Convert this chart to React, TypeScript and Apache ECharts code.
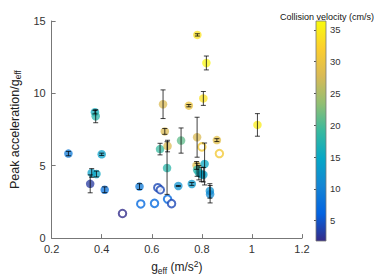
import React, { useEffect, useRef } from "react";
import * as echarts from "echarts";

// Filled markers (with error bars)
const gEff = [0.267, 0.373, 0.376, 0.36, 0.379, 0.354, 0.412, 0.4, 0.551, 0.645, 0.652, 0.633, 0.663, 0.661, 0.717, 0.706, 0.748, 0.782, 0.818, 0.806, 0.781, 0.779, 0.781, 0.788, 0.798, 0.806, 0.811, 0.76, 0.86, 1.022, 0.832, 0.833];
const peakAcc = [5.84, 8.7, 8.42, 4.5, 4.43, 3.75, 3.34, 5.79, 3.56, 9.25, 7.37, 6.15, 6.36, 4.84, 6.74, 3.6, 9.15, 14.04, 12.1, 9.65, 6.97, 5.02, 4.72, 4.52, 4.4, 4.38, 5.12, 3.74, 6.77, 7.82, 3.26, 3.03];
const accErr = [0.15, 0.12, 0.45, 0.3, 0.2, 0.62, 0.2, 0.08, 0.2, 0.99, 0.2, 0.4, 0.4, 1.82, 0.87, 0.03, 0.08, 0.08, 0.48, 0.48, 1.38, 0.27, 0.45, 0.5, 0.5, 0.5, 1.45, 0.1, 0.1, 0.78, 0.5, 0.6];
const velocity = [9, 16, 18, 14, 15, 3, 8, 14, 9, 28, 28, 19, 28, 18, 21, 12, 30, 34, 36, 34, 28, 29, 18, 17, 15, 14, 15, 13, 29, 35, 12, 11];

// Open markers (no error bars)
const ringG = [0.483, 0.556, 0.611, 0.624, 0.634, 0.663, 0.679, 0.8, 0.87];
const ringAcc = [1.7, 2.36, 2.4, 3.48, 3.34, 2.7, 2.38, 6.3, 5.84];
const ringVel = [2, 7, 7, 4, 4, 7, 4, 31, 31];

// Colour scale
const velRange = [1.8, 36.4];
const cbarTicks = [5, 10, 15, 20, 25, 30, 35];
const parula = ["#352a87", "#0363e1", "#1485d4", "#06a7c6", "#38b99e", "#92bf73", "#d9ba56", "#fcce2e", "#f9fb0e"];

const FONT = "Liberation Sans, Arial, Helvetica, sans-serif";

export default function App() {
  const ref = useRef<HTMLDivElement>(null);
  useEffect(() => {
    if (!ref.current) return;
    const chart = echarts.init(ref.current, null, { renderer: "svg" });
    const filled = gEff.map((g, i) => [g, peakAcc[i], velocity[i]]);
    const rings = ringG.map((g, i) => [g, ringAcc[i], ringVel[i]]);
    const errs = gEff.map((g, i) => [g, peakAcc[i], accErr[i]]);
    const option: any = {
      animation: false,
      backgroundColor: "#fff",
      textStyle: { fontFamily: FONT },
      title: {
        text: "Collision velocity (cm/s)",
        left: 322,
        top: 7,
        textAlign: "center",
        textStyle: { fontSize: 9, fontWeight: "normal", color: "#111", fontFamily: FONT },
      },
      grid: [
        { left: 44, right: 72, top: 21, bottom: 39 },
        { left: 316, width: 10, top: 21, bottom: 39 },
      ],
      xAxis: [
        {
          type: "value",
          gridIndex: 0,
          min: 0.2,
          max: 1.2,
          interval: 0.2,
          name: "{n|g}{sub|eff}{n| (m/s}{sup|2}{n|)}",
          nameLocation: "middle",
          nameGap: 20,
          nameTextStyle: {
            color: "#222",
            fontSize: 12,
            fontFamily: FONT,
            rich: {
              n: { fontSize: 12, color: "#222", fontFamily: FONT },
              sub: { fontSize: 8.5, color: "#222", padding: [7, 0, 0, 0], fontFamily: FONT },
              sup: { fontSize: 8.5, color: "#222", padding: [0, 0, 7, 0], fontFamily: FONT },
            },
          },
          axisLine: { show: true, lineStyle: { color: "#777", width: 1 } },
          axisTick: { show: true, inside: true, length: 4, lineStyle: { color: "#777" } },
          axisLabel: { color: "#333", fontSize: 11, margin: 5, fontFamily: FONT },
          splitLine: { show: false },
        },
        {
          type: "value",
          gridIndex: 1,
          min: 0,
          max: 1,
          show: false,
        },
      ],
      yAxis: [
        {
          type: "value",
          gridIndex: 0,
          min: 0,
          max: 15,
          interval: 5,
          name: "{n|Peak acceleration/g}{sub|eff}",
          nameLocation: "middle",
          nameGap: 28,
          nameTextStyle: {
            color: "#222",
            fontSize: 12.5,
            fontFamily: FONT,
            rich: {
              n: { fontSize: 12.5, color: "#222", fontFamily: FONT },
              sub: { fontSize: 8.5, color: "#222", padding: [7, 0, 0, 0], fontFamily: FONT },
            },
          },
          axisLine: { show: true, lineStyle: { color: "#777", width: 1 } },
          axisTick: { show: true, inside: true, length: 4, lineStyle: { color: "#777" } },
          axisLabel: { color: "#333", fontSize: 11, margin: 6, fontFamily: FONT },
          splitLine: { show: false },
        },
        {
          type: "value",
          gridIndex: 1,
          min: velRange[0],
          max: velRange[1],
          position: "right",
          axisLine: { show: false },
          axisTick: { show: true, inside: true, length: 2, customValues: cbarTicks, lineStyle: { color: "#555" } },
          axisLabel: { show: true, customValues: cbarTicks, color: "#333", fontSize: 9.5, margin: 4, fontFamily: FONT },
          splitLine: { show: false },
        },
      ],
      visualMap: {
        type: "continuous",
        show: false,
        min: velRange[0],
        max: velRange[1],
        dimension: 2,
        seriesIndex: [0, 1],
        inRange: { color: parula },
      },
      series: [
        {
          type: "scatter",
          xAxisIndex: 0,
          yAxisIndex: 0,
          data: filled,
          symbol: "circle",
          symbolSize: 8.5,
          itemStyle: { opacity: 0.75 },
          z: 2,
        },
        {
          type: "scatter",
          xAxisIndex: 0,
          yAxisIndex: 0,
          data: rings,
          symbol: "emptyCircle",
          symbolSize: 7.5,
          itemStyle: { borderWidth: 2.8 },
          z: 3,
        },
        {
          type: "custom",
          xAxisIndex: 0,
          yAxisIndex: 0,
          data: errs,
          encode: { x: 0, y: 1 },
          z: 4,
          renderItem: (params: any, api: any) => {
            const x = api.value(0);
            const y = api.value(1);
            const e = api.value(2);
            const top = api.coord([x, y + e]);
            const bot = api.coord([x, y - e]);
            const hw = 2.5;
            const style = { stroke: "#000", lineWidth: 1, opacity: 0.75 };
            return {
              type: "group",
              children: [
                { type: "line", shape: { x1: top[0], y1: top[1], x2: bot[0], y2: bot[1] }, style },
                { type: "line", shape: { x1: top[0] - hw, y1: top[1], x2: top[0] + hw, y2: top[1] }, style },
                { type: "line", shape: { x1: bot[0] - hw, y1: bot[1], x2: bot[0] + hw, y2: bot[1] }, style },
              ],
            };
          },
        },
        {
          type: "custom",
          xAxisIndex: 1,
          yAxisIndex: 1,
          data: [[0, velRange[0], 1, velRange[1]]],
          renderItem: (params: any, api: any) => {
            const p0 = api.coord([api.value(0), api.value(3)]);
            const p1 = api.coord([api.value(2), api.value(1)]);
            const stops = parula
              .map((c, i) => ({ offset: 1 - i / (parula.length - 1), color: c }))
              .reverse();
            return {
              type: "rect",
              shape: { x: p0[0], y: p0[1], width: p1[0] - p0[0], height: p1[1] - p0[1] },
              style: {
                fill: new echarts.graphic.LinearGradient(0, 0, 0, 1, stops),
                stroke: "#777",
                lineWidth: 0.8,
              },
            };
          },
        },
      ],
    };
    chart.setOption(option);
    return () => chart.dispose();
  }, []);
  return (
    <div
      ref={ref}
      style={{ position: "fixed", left: 0, top: 0, width: 374, height: 280, background: "#fff" }}
    />
  );
}
